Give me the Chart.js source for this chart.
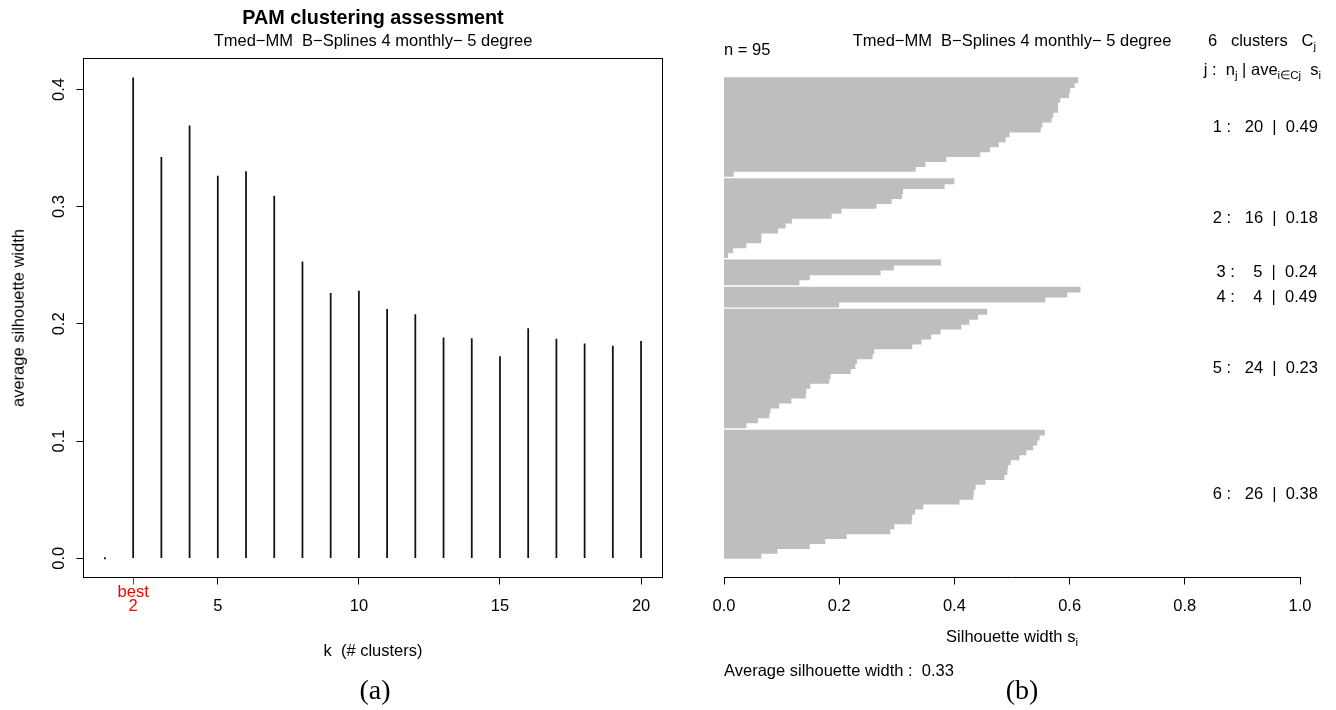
<!DOCTYPE html>
<html>
<head>
<meta charset="utf-8">
<title>PAM clustering assessment</title>
<script src="https://cdn.jsdelivr.net/npm/chart.js@4.4.1/dist/chart.umd.min.js"></script>
<style>
  html, body { margin:0; padding:0; background:#fff; }
  #wrap { position:relative; width:1336px; height:710px; overflow:hidden; font-family:"Liberation Sans", Arial, Helvetica, sans-serif; color:#000; }
  canvas { position:absolute; top:0; }
  #ca { left:0; }
  #cb { left:680px; }
  .t { position:absolute; white-space:pre; line-height:1; font-size:16.5px; }
  .c { transform:translate(-50%,-50%); }
  .l { transform:translate(0,-50%); }
  .r { transform:translate(-100%,-50%); }
  .t sub { font-size:11.5px; vertical-align:-4px; line-height:0; }
  .cap { font-family:"Liberation Serif","Times New Roman",serif; font-size:28px; }
</style>
</head>
<body>
<div id="wrap">
  <canvas id="ca" width="680" height="710"></canvas>
  <canvas id="cb" width="656" height="710"></canvas>

  <!-- panel (a) texts -->
  <div class="t c" style="left:373px;top:18px;font-weight:bold;font-size:19.8px">PAM clustering assessment</div>
  <div class="t c" style="left:373px;top:40px">Tmed−MM  B−Splines 4 monthly− 5 degree</div>
  <div class="t c" style="left:18px;top:318px;transform:translate(-50%,-50%) rotate(-90deg)">average silhouette width</div>
  <div class="t c" style="left:373px;top:650px">k  (# clusters)</div>
  <div class="t c cap" style="left:375px;top:690px">(a)</div>

  <!-- panel (b) texts -->
  <div class="t c" style="left:1012px;top:40px">Tmed−MM  B−Splines 4 monthly− 5 degree</div>
  <div class="t l" id="nobs" style="left:724px;top:49px"></div>
  <div class="t r" id="kclus" style="left:1316px;top:40px"></div>
  <div class="t r" style="left:1321px;top:69px">j :  n<sub>j</sub> | ave<sub>i∈Cj</sub>  s<sub>i</sub></div>
  <div class="t c" style="left:1012px;top:636px">Silhouette width s<sub>i</sub></div>
  <div class="t l" id="avgw" style="left:724px;top:670px"></div>
  <div class="t c cap" style="left:1022px;top:690px">(b)</div>
</div>
<script>
// ---------------- data ----------------
const kValues = [1, 2, 3, 4, 5, 6, 7, 8, 9, 10, 11, 12, 13, 14, 15, 16, 17, 18, 19, 20];
const avgSilWidth = [0, 0.410, 0.342, 0.369, 0.326, 0.330, 0.309, 0.253, 0.226, 0.228,
                     0.2125, 0.208, 0.188, 0.1875, 0.172, 0.196, 0.187, 0.183, 0.181, 0.185];
const bestK = 2;
const kAxisTicks = [2, 5, 10, 15, 20];
const avgAxisTicks = [0.0, 0.1, 0.2, 0.3, 0.4];
const silAxisTicks = [0.0, 0.2, 0.4, 0.6, 0.8, 1.0];

const cluster1 = [0.614, 0.608, 0.600, 0.598, 0.583, 0.579, 0.579, 0.571, 0.568, 0.552,
                  0.549, 0.495, 0.488, 0.476, 0.461, 0.444, 0.385, 0.349, 0.332, 0.016];
const cluster2 = [0.399, 0.382, 0.310, 0.308, 0.290, 0.264, 0.203, 0.186, 0.117, 0.106,
                  0.093, 0.064, 0.064, 0.038, 0.015, 0.006];
const cluster3 = [0.376, 0.294, 0.271, 0.148, 0.130];
const cluster4 = [0.618, 0.595, 0.557, 0.199];
const cluster5 = [0.456, 0.440, 0.425, 0.411, 0.375, 0.359, 0.342, 0.326, 0.260, 0.257,
                  0.230, 0.227, 0.219, 0.184, 0.182, 0.149, 0.142, 0.141, 0.116, 0.095,
                  0.080, 0.078, 0.058, 0.038];
const cluster6 = [0.556, 0.547, 0.543, 0.536, 0.524, 0.512, 0.497, 0.492, 0.491, 0.486,
                  0.453, 0.436, 0.433, 0.432, 0.408, 0.345, 0.331, 0.326, 0.325, 0.295,
                  0.288, 0.212, 0.175, 0.148, 0.092, 0.064];
const clusterAvg = [0.49, 0.18, 0.24, 0.49, 0.23, 0.38];
const overallAvg = 0.33;

// ---------------- derived ----------------
const FONT = '"Liberation Sans", Arial, Helvetica, sans-serif';
Chart.defaults.font.family = FONT;
Chart.defaults.color = '#000';

const clusters = [cluster1, cluster2, cluster3, cluster4, cluster5, cluster6];
const GAP = 0.5;
const nTotal = clusters.reduce((s, c) => s + c.length, 0);
const span = nTotal + GAP * (clusters.length - 1);
const silPoints = [];
const clusterMid = [];
let cursor = span;
clusters.forEach((c) => {
  const first = cursor - 0.5;
  c.forEach(v => { silPoints.push({ x: v, y: cursor - 0.5 }); cursor -= 1; });
  clusterMid.push((first + cursor + 0.5) / 2);
  cursor -= GAP;
});

document.getElementById('nobs').textContent = 'n = ' + nTotal;
document.getElementById('kclus').innerHTML = clusters.length + '   clusters   C<sub>j</sub>';
document.getElementById('avgw').textContent = 'Average silhouette width :  ' + overallAvg.toFixed(2);

const ext = 0.04;
const yMaxA = Math.max(...avgSilWidth);

// ---------------- plugins ----------------
const boxPlugin = {
  id: 'boxA',
  afterDraw(chart) {
    const { ctx, chartArea: a } = chart;
    ctx.save();
    ctx.strokeStyle = '#000';
    ctx.lineWidth = 1;
    ctx.strokeRect(a.left, a.top, a.right - a.left, a.bottom - a.top);
    ctx.restore();
  }
};
const yLabelsA = {
  id: 'yLabelsA',
  afterDraw(chart) {
    const { ctx, chartArea: a } = chart;
    const ys = chart.scales.y;
    ctx.save();
    ctx.fillStyle = '#000';
    ctx.font = '16.5px ' + FONT;
    ctx.textAlign = 'center';
    ctx.textBaseline = 'middle';
    avgAxisTicks.forEach(v => {
      ctx.save();
      ctx.translate(a.left - 24, ys.getPixelForValue(v));
      ctx.rotate(-Math.PI / 2);
      ctx.fillText(v.toFixed(1), 0, 0);
      ctx.restore();
    });
    ctx.restore();
  }
};
const clusterLabels = {
  id: 'clusterLabels',
  afterDraw(chart) {
    const { ctx } = chart;
    const xs = chart.scales.x, ys = chart.scales.y;
    ctx.save();
    ctx.fillStyle = '#000';
    ctx.font = '16.5px ' + FONT;
    ctx.textAlign = 'left';
    ctx.textBaseline = 'middle';
    clusters.forEach((c, j) => {
      const txt = (j + 1) + ' :   ' + String(c.length).padStart(2, ' ') + '  |  ' + clusterAvg[j].toFixed(2);
      const w = ctx.measureText(txt).width;
      ctx.fillText(txt, xs.getPixelForValue(1) - 0.83 * w, ys.getPixelForValue(clusterMid[j]));
    });
    ctx.restore();
  }
};

// ---------------- panel (a) ----------------
new Chart(document.getElementById('ca'), {
  type: 'bar',
  data: {
    datasets: [{
      data: kValues.map((k, i) => ({ x: k, y: avgSilWidth[i] })),
      backgroundColor: '#111',
      borderWidth: 0,
      barThickness: 1.1,
      minBarLength: 1.5
    }]
  },
  options: {
    responsive: false,
    animation: false,
    events: [],
    layout: { padding: { left: 0, top: 58.5, right: 17.5, bottom: 0 } },
    plugins: { legend: { display: false }, tooltip: { enabled: false } },
    scales: {
      x: {
        type: 'linear',
        min: 1 - ext * (kValues.length - 1),
        max: kValues.length + ext * (kValues.length - 1),
        offset: false,
        afterBuildTicks: s => { s.ticks = kAxisTicks.map(v => ({ value: v })); },
        afterFit: s => { s.height = 132.5; },
        grid: {
          display: true, offset: false, drawOnChartArea: false, drawTicks: true, tickLength: 7, lineWidth: 1,
          color: ctx => (ctx.tick && ctx.tick.value === bestK) ? '#ff0000' : '#000'
        },
        border: { display: false },
        ticks: {
          autoSkip: false, maxRotation: 0, minRotation: 0, padding: 1.7,
          font: { size: 16.5, lineHeight: 0.8 },
          color: ctx => (ctx.tick && ctx.tick.value === bestK) ? '#ff0000' : '#000',
          callback: v => v === bestK ? ['best', String(v)] : ['', String(v)]
        }
      },
      y: {
        type: 'linear',
        min: -ext * yMaxA,
        max: yMaxA * (1 + ext),
        afterBuildTicks: s => { s.ticks = avgAxisTicks.map(v => ({ value: v })); },
        afterFit: s => { s.width = 83.5; },
        grid: { display: true, drawOnChartArea: false, drawTicks: true, tickLength: 7, color: '#000', lineWidth: 1 },
        border: { display: false },
        ticks: { display: false }
      }
    }
  },
  plugins: [boxPlugin, yLabelsA]
});

// ---------------- panel (b) ----------------
new Chart(document.getElementById('cb'), {
  type: 'bar',
  data: {
    datasets: [{
      data: silPoints,
      backgroundColor: '#bebebe',
      borderWidth: 0,
      barPercentage: 1.0,
      categoryPercentage: 1.0,
      inflateAmount: 0.5
    }]
  },
  options: {
    indexAxis: 'y',
    responsive: false,
    animation: false,
    events: [],
    layout: { padding: { left: 44, top: 58.5, right: 36, bottom: 0 } },
    plugins: { legend: { display: false }, tooltip: { enabled: false } },
    scales: {
      y: {
        type: 'linear',
        display: false,
        offset: false,
        min: -ext * span,
        max: span * (1 + ext),
        afterBuildTicks: s => { s.ticks = [{ value: 0 }]; },
        grid: { offset: false }
      },
      x: {
        type: 'linear',
        min: 0,
        max: 1,
        afterBuildTicks: s => { s.ticks = silAxisTicks.map(v => ({ value: v })); },
        afterFit: s => { s.height = 132.5; },
        grid: { display: true, drawOnChartArea: false, drawTicks: true, tickLength: 7, color: '#000', lineWidth: 1 },
        border: { display: true, color: '#000', width: 1 },
        ticks: {
          autoSkip: false, maxRotation: 0, minRotation: 0, padding: 14.9,
          font: { size: 16.5, lineHeight: 0.8 },
          color: '#000',
          callback: v => Number(v).toFixed(1)
        }
      }
    }
  },
  plugins: [clusterLabels]
});
</script>
</body>
</html>
